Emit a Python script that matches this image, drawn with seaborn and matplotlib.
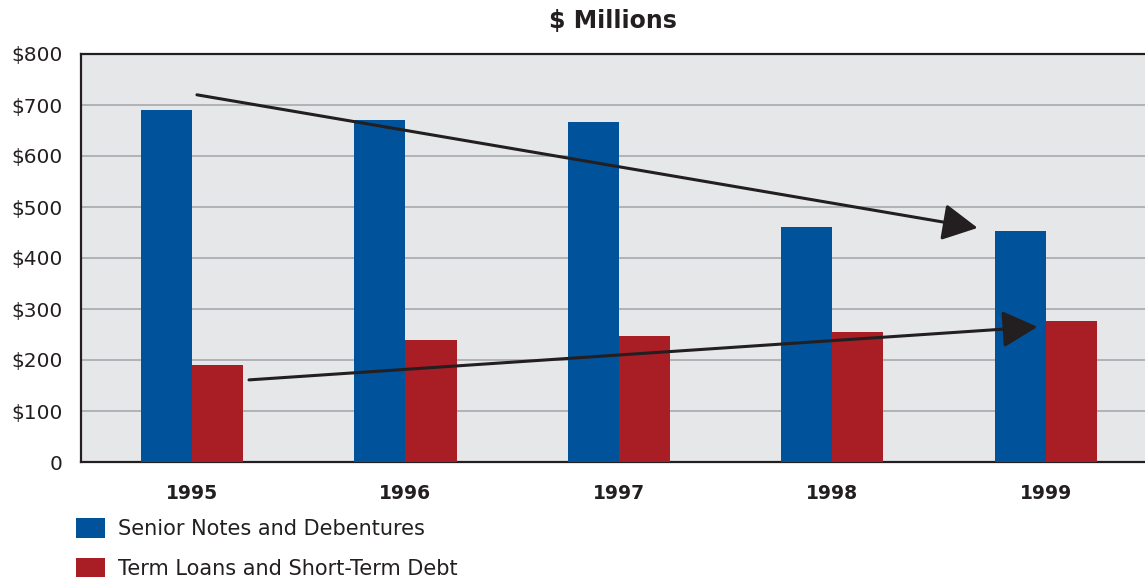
import matplotlib
matplotlib.use("Agg")
import matplotlib.pyplot as plt
import pandas as pd
import seaborn as sns

# Debt outstanding by year, $ millions
years = ["1995", "1996", "1997", "1998", "1999"]
senior_notes = [690, 670, 667, 461, 453]
term_loans = [190, 240, 248, 255, 276]
series_names = ["Senior Notes and Debentures", "Term Loans and Short-Term Debt"]
y_ticks = [0, 100, 200, 300, 400, 500, 600, 700, 800]
y_tick_labels = ["0", "$100", "$200", "$300", "$400", "$500", "$600", "$700", "$800"]

BLUE = "#00529B"
RED = "#A81E24"
INK = "#231F20"
PANEL = "#E6E7E9"
GRID = "#A7A9AC"

sns.set_style("white", {"axes.facecolor": PANEL})
plt.rcParams["font.family"] = ["DejaVu Sans"]

df = pd.DataFrame({
    "year": years * 2,
    "value": senior_notes + term_loans,
    "series": [series_names[0]] * len(years) + [series_names[1]] * len(years),
})

fig = plt.figure(figsize=(11.45, 5.83), dpi=100)
ax = fig.add_axes([81 / 1145, 1 - 462 / 583, 1 - 81 / 1145, (462 - 54) / 583])

sns.barplot(data=df, x="year", y="value", hue="series", order=years,
            hue_order=series_names, palette=[BLUE, RED], saturation=1,
            width=0.478, gap=0, errorbar=None, ax=ax, zorder=3,
            linewidth=0, edgecolor="none")

ax.set_xlim(-0.52, 4.464)
ax.set_ylim(0, 800)
ax.set_yticks(y_ticks)
ax.set_yticklabels(y_tick_labels)
ax.set_xlabel("")
ax.set_ylabel("")
ax.yaxis.grid(True, color=GRID, linewidth=1.2, zorder=0)
ax.set_axisbelow(True)
ax.tick_params(axis="y", length=0, pad=13, labelsize=14.5, labelcolor=INK)
ax.tick_params(axis="x", length=0, pad=16, labelsize=13.5, labelcolor=INK)
for lbl in ax.get_xticklabels():
    lbl.set_fontweight("bold")

for side in ["left", "bottom", "top"]:
    ax.spines[side].set_color(INK)
    ax.spines[side].set_linewidth(1.6)
ax.spines["right"].set_visible(False)

ax.set_title("$ Millions", fontsize=17, fontweight="bold", color=INK, pad=19)

# Trend arrows across the two series
arrow_kw = dict(arrowstyle="-|>,head_length=0.8,head_width=0.42", color=INK,
                lw=2.2, mutation_scale=27, shrinkA=0, shrinkB=0)
ax.annotate("", xy=(3.68, 459), xytext=(0.023, 720), arrowprops=arrow_kw, zorder=5)
ax.annotate("", xy=(3.96, 265), xytext=(0.267, 161), arrowprops=arrow_kw, zorder=5)

handles, labels = ax.get_legend_handles_labels()
if ax.get_legend() is not None:
    ax.get_legend().remove()
fig.legend(handles, labels, loc="upper left",
           bbox_to_anchor=(76 / 1145, 1 - 518 / 583), bbox_transform=fig.transFigure,
           frameon=False, fontsize=15, handlelength=1.4, handleheight=1.08,
           handletextpad=0.6, labelspacing=0.9, borderpad=0, borderaxespad=0,
           labelcolor=INK)

fig.savefig("out.png", dpi=100)
